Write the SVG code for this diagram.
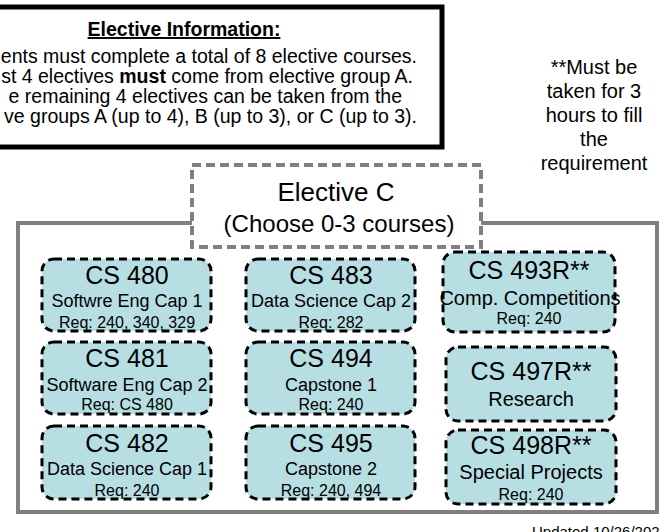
<svg xmlns="http://www.w3.org/2000/svg" width="661" height="532" viewBox="0 0 661 532">
  <style>
    text { font-family: "Liberation Sans", Arial, sans-serif; fill: #000; }
    .info { font-size: 19.5px; text-anchor: end; }
    .note { font-size: 20px; text-anchor: middle; }
    .course rect { fill: #b7dfe3; stroke: #000; stroke-width: 3; stroke-dasharray: 8 5; }
    .course text { text-anchor: middle; }
    .code { font-size: 25px; }
    .name { font-size: 18px; }
    .name3 { font-size: 20px; }
    .req { font-size: 16px; }
  </style>

  <!-- elective information panel -->
  <g id="info">
    <rect x="-10" y="7" width="452" height="140" fill="#fff" stroke="#000" stroke-width="5"/>
    <text x="184" y="36" font-size="19.5" font-weight="bold" text-anchor="middle" text-decoration="underline">Elective Information:</text>
    <text class="info" x="417" y="63">ents must complete a total of 8 elective courses.</text>
    <text class="info" x="413" y="83">st 4 electives <tspan font-weight="bold">must</tspan> come from elective group A.</text>
    <text class="info" x="402" y="103">e remaining 4 electives can be taken from the</text>
    <text class="info" x="417" y="123">ve groups A (up to 4), B (up to 3), or C (up to 3).</text>
  </g>

  <!-- footnote for R courses -->
  <g id="note">
    <text class="note" x="594" y="74">**Must be</text>
    <text class="note" x="594" y="98">taken for 3</text>
    <text class="note" x="594" y="122">hours to fill</text>
    <text class="note" x="594" y="146">the</text>
    <text class="note" x="594" y="170">requirement</text>
  </g>

  <!-- group container and its header -->
  <g id="groupC">
    <rect x="18" y="223" width="639" height="289" fill="none" stroke="#808080" stroke-width="4"/>
  </g>
  <g id="electiveC">
    <rect x="192" y="165" width="289" height="82" fill="#fff" stroke="#808080" stroke-width="4" stroke-dasharray="9 5"/>
    <text x="336" y="201" font-size="26" text-anchor="middle">Elective C</text>
    <text x="339" y="232" font-size="24" text-anchor="middle">(Choose 0-3 courses)</text>
  </g>

  <g id="connectors"></g>

  <!-- column 1 -->
  <g id="cs480" class="course">
    <rect x="42" y="259" width="169" height="72" rx="12"/>
    <text class="code" x="127" y="284">CS 480</text>
    <text class="name" x="127" y="307">Softwre Eng Cap 1</text>
    <text class="req" x="127" y="328">Req: 240, 340, 329</text>
  </g>
  <g id="cs481" class="course">
    <rect x="42" y="342" width="169" height="72" rx="12"/>
    <text class="code" x="127" y="367">CS 481</text>
    <text class="name" x="127" y="391">Software Eng Cap 2</text>
    <text class="req" x="127" y="410">Req: CS 480</text>
  </g>
  <g id="cs482" class="course">
    <rect x="42" y="426" width="169" height="73" rx="12"/>
    <text class="code" x="127" y="452">CS 482</text>
    <text class="name" x="127" y="475">Data Science Cap 1</text>
    <text class="req" x="127" y="496">Req: 240</text>
  </g>

  <!-- column 2 -->
  <g id="cs483" class="course">
    <rect x="246" y="259" width="169" height="72" rx="12"/>
    <text class="code" x="331" y="284">CS 483</text>
    <text class="name" x="331" y="307">Data Science Cap 2</text>
    <text class="req" x="331" y="328">Req: 282</text>
  </g>
  <g id="cs494" class="course">
    <rect x="246" y="342" width="169" height="72" rx="12"/>
    <text class="code" x="331" y="367">CS 494</text>
    <text class="name" x="331" y="391">Capstone 1</text>
    <text class="req" x="331" y="410">Req: 240</text>
  </g>
  <g id="cs495" class="course">
    <rect x="246" y="426" width="169" height="73" rx="12"/>
    <text class="code" x="331" y="452">CS 495</text>
    <text class="name" x="331" y="475">Capstone 2</text>
    <text class="req" x="331" y="496">Req: 240, 494</text>
  </g>

  <!-- column 3 -->
  <g id="cs493r" class="course">
    <rect x="443" y="252" width="172" height="80" rx="12"/>
    <text class="code" x="529" y="279">CS 493R**</text>
    <text class="name3" x="530" y="305">Comp. Competitions</text>
    <text class="req" x="529" y="324">Req: 240</text>
  </g>
  <g id="cs497r" class="course">
    <rect x="446" y="347" width="170" height="74" rx="12"/>
    <text class="code" x="531" y="380">CS 497R**</text>
    <text class="name3" x="531" y="406">Research</text>
  </g>
  <g id="cs498r" class="course">
    <rect x="446" y="430" width="170" height="74" rx="12"/>
    <text class="code" x="531" y="454">CS 498R**</text>
    <text class="name3" x="531" y="479">Special Projects</text>
    <text class="req" x="531" y="500">Req: 240</text>
  </g>

  <text x="532" y="537" font-size="15">Updated 10/26/202</text>
</svg>
